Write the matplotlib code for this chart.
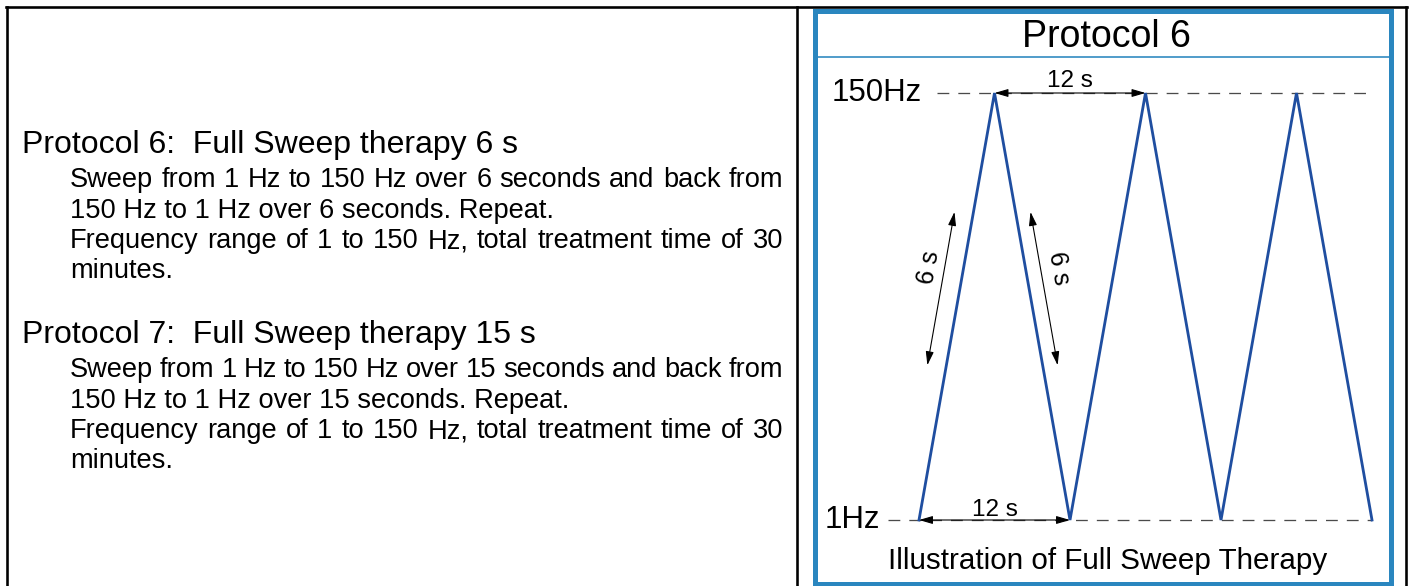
import matplotlib
matplotlib.use("Agg")
import matplotlib.pyplot as plt
from matplotlib.lines import Line2D
from matplotlib.patches import Rectangle
from matplotlib.transforms import ScaledTranslation

# ---------------- data ----------------
sweep_times_s = [0, 6, 12, 18, 24, 30, 36]        # time (s)
sweep_freqs_hz = [1, 150, 1, 150, 1, 150, 1]       # frequency (Hz)
freq_min_label = "1Hz"
freq_max_label = "150Hz"
period_label = "12 s"
half_period_label = "6 s"
diagram_title = "Protocol 6"
diagram_caption = "Illustration of Full Sweep Therapy"

p6_heading = "Protocol 6:  Full Sweep therapy 6 s"
p6_lines = ["Sweep from 1 Hz to 150 Hz over 6 seconds and back from",
            "150 Hz to 1 Hz over 6 seconds. Repeat.",
            "Frequency range of 1 to 150 Hz, total treatment time of 30",
            "minutes."]
p7_heading = "Protocol 7:  Full Sweep therapy 15 s"
p7_lines = ["Sweep from 1 Hz to 150 Hz over 15 seconds and back from",
            "150 Hz to 1 Hz over 15 seconds. Repeat.",
            "Frequency range of 1 to 150 Hz, total treatment time of 30",
            "minutes."]
justify_flags = [True, False, True, False]

# ---------------- figure ----------------
W, H = 1410, 586
FONT = "Liberation Sans"
plt.rcParams["font.family"] = [FONT, "DejaVu Sans"]
plt.rcParams["lines.scale_dashes"] = False

fig = plt.figure(figsize=(W / 100, H / 100), dpi=100)
fig.patch.set_facecolor("white")

# overlay axes in pixel units for layout elements
lay = fig.add_axes([0, 0, 1, 1])
lay.set_xlim(0, W)
lay.set_ylim(H, 0)
lay.axis("off")

PX = 0.72  # points per pixel at 100 dpi

# black borders
for (x0, y0, x1, y1) in [(7, 7, 7, H), (6, 7, 1407, 7), (797, 7, 797, H), (1406, 7, 1406, H)]:
    lay.add_line(Line2D([x0, x1], [y0, y1], color="black", lw=2.6 * PX, solid_capstyle="projecting"))

# blue frame
BLUE = "#2A86BF"
lay.add_patch(Rectangle((814.5, 10.5), 1390.5 - 814.5, 583.5 - 10.5, fill=False,
                        edgecolor=BLUE, lw=5 * PX, joinstyle="miter"))
lay.add_line(Line2D([816, 1389], [57, 57], color=BLUE, lw=1.6 * PX))

lay.text(1106, 37, diagram_title, fontsize=27, ha="center", va="center")
lay.text(1108, 561, diagram_caption, fontsize=21.3, ha="center", va="center")

# left text
renderer = fig.canvas.get_renderer()


def draw_line(x0, x1, y, text, size, justify):
    if not justify:
        lay.text(x0, y, text, fontsize=size, ha="left", va="baseline")
        return
    words = text.split(" ")
    widths = []
    for w in words:
        t = lay.text(0, 0, w, fontsize=size)
        widths.append(t.get_window_extent(renderer).width)
        t.remove()
    gap = (x1 - x0 - sum(widths)) / (len(words) - 1)
    x = x0
    for w, wd in zip(words, widths):
        lay.text(x, y, w, fontsize=size, ha="left", va="baseline")
        x += wd + gap


HEAD_SIZE = 23
BODY_SIZE = 19.6
LINE_STEP = 30.5
for heading, lines, base in [(p6_heading, p6_lines, 153), (p7_heading, p7_lines, 343)]:
    lay.text(22, base, heading, fontsize=HEAD_SIZE, ha="left", va="baseline")
    for i, (ln, j) in enumerate(zip(lines, justify_flags)):
        draw_line(70, 783, base + 34 + i * LINE_STEP, ln, BODY_SIZE, j)

# ---------------- diagram axes ----------------
x_left, x_right, y_top, y_bot = 919, 1372, 93, 520
ax = fig.add_axes([x_left / W, (H - y_bot) / H, (x_right - x_left) / W, (y_bot - y_top) / H])
ax.set_xlim(min(sweep_times_s), max(sweep_times_s))
ax.set_ylim(min(sweep_freqs_hz), max(sweep_freqs_hz))
ax.axis("off")
ax.patch.set_alpha(0)

fmin, fmax = min(sweep_freqs_hz), max(sweep_freqs_hz)
tmax = max(sweep_times_s)
half = sweep_times_s[1] - sweep_times_s[0]
px_per_s = (x_right - x_left) / tmax

# dashed reference lines
ax.plot([(937 - x_left) / px_per_s, tmax - 0.15], [fmax, fmax], color="#4a4a4a",
        lw=1.3 * PX, dashes=(8.5, 6.5), clip_on=False)
ax.plot([(888 - x_left) / px_per_s, tmax], [fmin, fmin], color="#4a4a4a",
        lw=1.3 * PX, dashes=(8.5, 6.5), clip_on=False)

# triangle sweep
ax.plot(sweep_times_s, sweep_freqs_hz, color="#1F4EA0", lw=2.8 * PX, clip_on=False,
        solid_joinstyle="miter")

ax.text(-(x_left - 922) / px_per_s, fmax, freq_max_label, fontsize=22.5, ha="right", va="center")
ax.text(-(x_left - 880) / px_per_s, fmin, freq_min_label, fontsize=22.5, ha="right", va="center")

astyle = dict(arrowstyle="<|-|>,head_length=0.55,head_width=0.16", color="black",
              lw=1.1 * PX, shrinkA=0, shrinkB=0, mutation_scale=15)

# horizontal 12 s arrows
ax.annotate("", xy=(sweep_times_s[1], fmax), xytext=(sweep_times_s[3], fmax),
            arrowprops=astyle, annotation_clip=False)
ax.annotate("", xy=(sweep_times_s[0], fmin), xytext=(sweep_times_s[2], fmin),
            arrowprops=astyle, annotation_clip=False)
ax.text((sweep_times_s[1] + sweep_times_s[3]) / 2, fmax, period_label, fontsize=17.5,
        ha="center", va="baseline",
        transform=ax.transData + ScaledTranslation(0, 6 / 100, fig.dpi_scale_trans))
ax.text((sweep_times_s[0] + sweep_times_s[2]) / 2, fmin, period_label, fontsize=17.5,
        ha="center", va="baseline",
        transform=ax.transData + ScaledTranslation(0, 4 / 100, fig.dpi_scale_trans))


def rise_t(f):
    return sweep_times_s[0] + half * (f - fmin) / (fmax - fmin)


def fall_t(f):
    return sweep_times_s[2] - half * (f - fmin) / (fmax - fmin)


f_lo, f_hi = 55, 108.5
tr_left = ax.transData + ScaledTranslation(-19 / 100, 0, fig.dpi_scale_trans)
tr_right = ax.transData + ScaledTranslation(15 / 100, 0, fig.dpi_scale_trans)
ax.annotate("", xy=(rise_t(f_lo), f_lo), xytext=(rise_t(f_hi), f_hi), xycoords=tr_left,
            textcoords=tr_left, arrowprops=astyle, annotation_clip=False)
ax.annotate("", xy=(fall_t(f_lo), f_lo), xytext=(fall_t(f_hi), f_hi), xycoords=tr_right,
            textcoords=tr_right, arrowprops=astyle, annotation_clip=False)

f_lab = 89
ax.text(rise_t(f_lab), f_lab, half_period_label, fontsize=18, rotation=80,
        rotation_mode="anchor", ha="center", va="center",
        transform=ax.transData + ScaledTranslation(-35 / 100, 0, fig.dpi_scale_trans))
ax.text(fall_t(f_lab), f_lab, half_period_label, fontsize=18, rotation=-80,
        rotation_mode="anchor", ha="center", va="center",
        transform=ax.transData + ScaledTranslation(33 / 100, 0, fig.dpi_scale_trans))

fig.savefig("out.png", dpi=100)
